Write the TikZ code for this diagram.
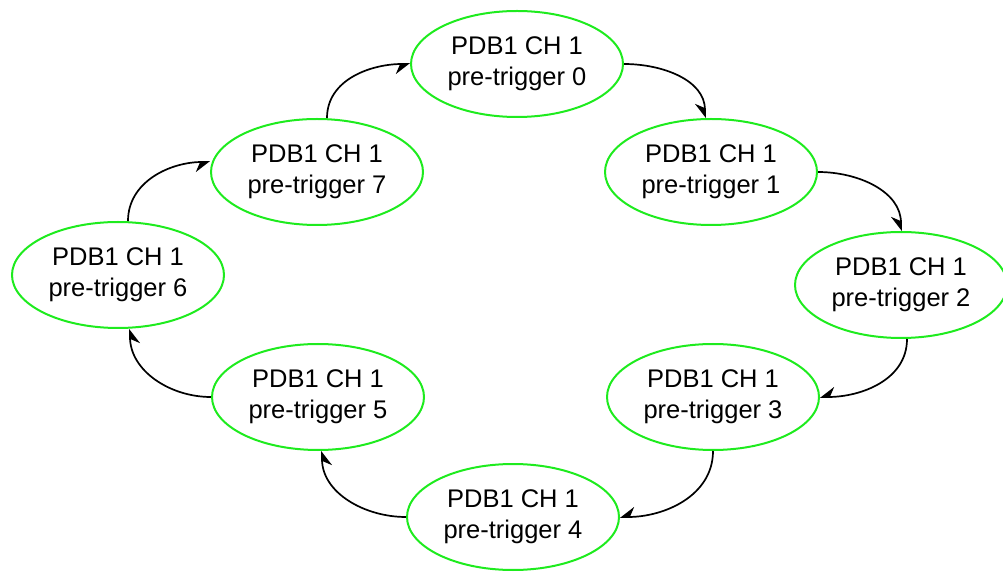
\documentclass[tikz,border=0pt]{standalone}
\usepackage{fontspec}
\setmainfont{Liberation Sans}
\usetikzlibrary{arrows.meta,shapes.geometric}
\definecolor{nodegreen}{RGB}{30,235,30}
\tikzset{
  stateell/.style={ellipse, draw=nodegreen, line width=2pt, minimum width=212pt, minimum height=106pt, inner sep=0pt, align=center, font=\fontsize{25.5}{31}\selectfont},
  conn/.style={line width=1.7pt, -{Stealth[harpoon,swap,length=13pt,width=20pt]}}
}
\begin{document}
\begin{tikzpicture}[x=1pt,y=1pt]
\useasboundingbox (0,0) rectangle (1003,573);
\node[stateell] (n0) at (517,509) {PDB1 CH 1\\pre-trigger 0};
\node[stateell] (n1) at (711,401) {PDB1 CH 1\\pre-trigger 1};
\node[stateell] (n2) at (901,288) {PDB1 CH 1\\pre-trigger 2};
\node[stateell] (n3) at (713,176) {PDB1 CH 1\\pre-trigger 3};
\node[stateell] (n4) at (513,56) {PDB1 CH 1\\pre-trigger 4};
\node[stateell] (n5) at (318,176) {PDB1 CH 1\\pre-trigger 5};
\node[stateell] (n6) at (118,298) {PDB1 CH 1\\pre-trigger 6};
\node[stateell] (n7) at (317,401) {PDB1 CH 1\\pre-trigger 7};
\draw[conn] (n0.east) to[out=0,in=90] ([xshift=-6pt]n1.north);
\draw[conn] (n1.east) to[out=0,in=90] (n2.north);
\draw[conn] ([xshift=6pt]n2.south) to[out=-90,in=0] (n3.east);
\draw[conn] (n3.south) to[out=-90,in=0] (n4.east);
\draw[conn] (n4.west) to[out=180,in=-90] ([xshift=4pt]n5.south);
\draw[conn] (n5.west) to[out=180,in=-90] ([xshift=12pt]n6.south);
\draw[conn] ([xshift=10pt]n6.north) to[out=90,in=180] ([yshift=10pt]n7.west);
\draw[conn] ([xshift=10pt]n7.north) to[out=90,in=180] (n0.west);
\end{tikzpicture}
\end{document}
